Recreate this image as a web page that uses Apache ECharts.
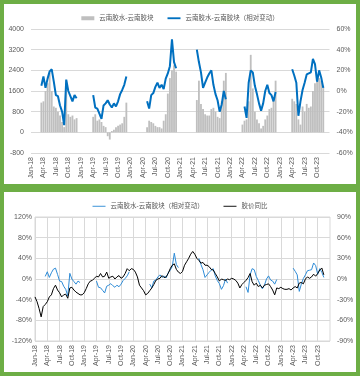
<!DOCTYPE html>
<html><head><meta charset="utf-8">
<script src="https://cdn.jsdelivr.net/npm/echarts@6/dist/echarts.min.js"></script>
<style>
html,body{margin:0;padding:0;background:#6DAE45;width:360px;height:376px;overflow:hidden}
.panel{position:absolute;left:4px;width:352px;background:#fff}
#chart{position:absolute;left:0;top:0;width:360px;height:376px}
</style></head>
<body>
<div class="panel" style="top:4px;height:180px"></div>
<div class="panel" style="top:192px;height:180px"></div>
<div id="chart"></div>
<script>
// quarterly tick labels (one every 6 half-month categories)
const tickLabels = ['Jan-18','Apr-18','Jul-18','Oct-18','Jan-19','Apr-19','Jul-19','Oct-19',
  'Jan-20','Apr-20','Jul-20','Oct-20','Jan-21','Apr-21','Jul-21','Oct-21',
  'Jan-22','Apr-22','Jul-22','Oct-22','Jan-23','Apr-23','Jul-23','Oct-23'];
const N = null;
// 云南胶水-云南胶块 spread (yuan/t), half-month points from Jan-18
const spread = [
  N,N,N,N,N,1150,1200,1600,1900,2300,1600,1000,950,800,650,400,200,2000,700,600,650,500,550,N,
  N,N,N,N,N,N,600,700,450,500,400,250,200,-150,-280,50,100,200,250,300,350,600,1150,N,
  N,N,N,N,N,N,N,N,200,450,400,350,250,200,200,150,450,700,1500,2100,2400,2600,2350,N,
  N,N,N,N,N,N,N,N,1250,2000,1100,900,700,650,650,900,950,800,600,550,1200,2000,2300,N,
  N,N,N,N,N,N,300,450,500,1200,3000,1700,800,500,350,150,250,500,650,900,950,1300,2000,N,
  N,N,N,N,N,N,1300,1200,1100,500,300,1000,800,1100,950,1000,1600,1900,1950,2100,2000,1800,N,N,
  N
];
// 云南胶水-云南胶块（相对变动）, %
const relSpread = [
  N,N,N,N,N,5,14,3,12,19,21,9,-4,-5,-14,-20,-33,11,0,-5,-10,-4,-7,N,
  N,N,N,N,N,N,-4,-16,-17,-22,-27,-14,-12,-9,-13,-16,-12,-15,-10,-3,1,6,14,N,
  N,N,N,N,N,N,N,N,-10,-17,-4,-2,4,8,3,6,2,12,17,24,50,28,22,N,
  N,N,N,N,N,N,N,N,40,28,18,3,8,13,17,20,6,-3,-9,-20,-13,0,-8,N,
  N,N,N,N,N,N,N,-15,-26,8,20,18,5,-3,-12,-19,-12,0,6,-2,-4,-10,-1,N,
  N,N,N,N,N,N,21,15,8,-24,-10,1,8,16,17,18,31,26,9,20,13,3,N,N,
  N
];
// 胶价同比, %
const priceYoY = [
  -26,-33,-43,-55,-40,-37,-33,-26,-23,-14,-9,-16,-20,-26,-23,-22,-28,-13,-12,-16,-19,-21,-23,-23,
  -20,-14,-7,-3,-2,1,4,3,8,3,4,10,1,3,4,0,3,5,1,3,8,15,12,15,
  14,10,3,-9,-13,-17,-23,-21,-17,-13,-8,-2,0,1,5,2,3,8,15,20,22,14,10,8,
  11,20,25,30,36,40,36,30,27,23,24,20,20,18,14,13,8,3,-3,0,-1,-2,0,-1,
  1,0,-2,-6,-13,-8,-5,-2,2,8,-4,-9,-6,-11,-9,-13,-9,-8,-7,-11,-16,-23,-13,-14,
  -12,-14,-15,-15,-14,-16,-13,-11,-13,-6,-5,-7,0,3,1,3,7,4,8,13,16,6,N,N,
  N
];
const categories = priceYoY.map((_, i) => 'p' + i);

const FONT = "'Liberation Sans','Noto Sans CJK SC',sans-serif";
const TXT = '#595959';
const GRID = '#D9D9D9';
const showTick = (i) => i % 6 === 0 && i / 6 < tickLabels.length;
const fmtTick = (v, i) => (showTick(i) ? tickLabels[i / 6] : '');
const LINE_ICON = 'path://M0,0L14,0L14,2L0,2Z';
const THIN_ICON = 'path://M0,0L14,0L14,1L0,1Z';

function xAxis(gi, split) {
  return {
    type: 'category', gridIndex: gi, data: categories, boundaryGap: false,
    axisLine: { show: false, onZero: false }, axisTick: { show: false },
    axisLabel: { interval: showTick, formatter: fmtTick, rotate: 90, fontSize: 7,
      color: TXT, fontFamily: FONT, margin: 4 },
    splitLine: { show: split, interval: showTick, lineStyle: { color: GRID, width: 1 } }
  };
}
function yAxis(gi, pos, min, max, step, pct, split, margin) {
  return {
    type: 'value', gridIndex: gi, position: pos, min, max, interval: step,
    axisLine: { show: false }, axisTick: { show: false },
    axisLabel: { fontSize: 7, color: TXT, fontFamily: FONT, margin,
      formatter: (v) => String(v) + (pct ? '%' : '') },
    splitLine: { show: split, lineStyle: { color: GRID, width: 1 } }
  };
}
const NAME_BAR = '云南胶水-云南胶块';
const NAME_REL = '云南胶水-云南胶块（相对变动）';
const NAME_REL2 = '云南胶水-云南胶块（相对变动） ';
const NAME_YOY = '胶价同比';
const legendText = { fontSize: 6.5, color: TXT, fontFamily: FONT };

const option = {
  backgroundColor: 'transparent',
  animation: false,
  legend: [
    { top: 10, left: 'center', itemWidth: 13, itemHeight: 4, itemGap: 14, selectedMode: false,
      textStyle: legendText,
      data: [{ name: NAME_BAR, icon: 'rect' }, { name: NAME_REL, icon: LINE_ICON }] },
    { top: 198, left: 'center', itemWidth: 13, itemHeight: 4, itemGap: 18, selectedMode: false,
      textStyle: legendText,
      data: [{ name: NAME_REL2, icon: THIN_ICON }, { name: NAME_YOY, icon: THIN_ICON }] }
  ],
  grid: [
    { left: 31, right: 30.5, top: 29, height: 124 },
    { left: 35, right: 30, top: 217, height: 124, show: true, borderColor: GRID, borderWidth: 1 }
  ],
  xAxis: [xAxis(0, false), xAxis(1, true)],
  yAxis: [
    yAxis(0, 'left', -800, 4000, 800, false, true, 7),
    yAxis(0, 'right', -60, 60, 20, true, false, 7),
    yAxis(1, 'left', -120, 120, 40, true, true, 3),
    yAxis(1, 'right', -90, 90, 30, true, false, 7)
  ],
  series: [
    { name: NAME_BAR, type: 'bar', xAxisIndex: 0, yAxisIndex: 0, data: spread,
      itemStyle: { color: '#BFBFBF' }, barCategoryGap: '12%' },
    { name: NAME_REL, type: 'line', xAxisIndex: 0, yAxisIndex: 1, data: relSpread,
      symbol: 'none', connectNulls: false, lineStyle: { color: '#0070C0', width: 2 },
      itemStyle: { color: '#0070C0' } },
    { name: NAME_REL2, type: 'line', xAxisIndex: 1, yAxisIndex: 2, data: relSpread,
      symbol: 'none', connectNulls: false, lineStyle: { color: '#2E8BD6', width: 1 },
      itemStyle: { color: '#2E8BD6' } },
    { name: NAME_YOY, type: 'line', xAxisIndex: 1, yAxisIndex: 3, data: priceYoY,
      symbol: 'none', connectNulls: false, lineStyle: { color: '#000000', width: 1 },
      itemStyle: { color: '#000000' } }
  ]
};
const chart = echarts.init(document.getElementById('chart'), null, { renderer: 'canvas' });
chart.setOption(option);
</script>
</body></html>
